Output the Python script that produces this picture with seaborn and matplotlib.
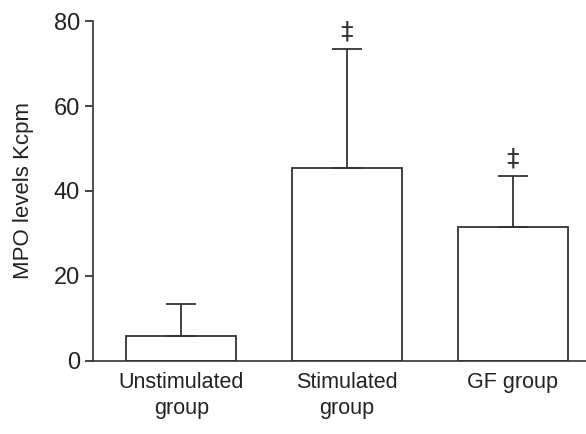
import pandas as pd
import numpy as np
import matplotlib
matplotlib.use('Agg')
import matplotlib.pyplot as plt
import seaborn as sns

# data
groups = ['Unstimulated\ngroup', 'Stimulated\ngroup', 'GF group']
means = [5.9, 45.3, 31.5]
upper_err = [7.5, 28.2, 12.1]
marks = ['', '‡', '‡']

sns.set_style('white')
plt.rcParams['font.family'] = ['Liberation Sans Narrow', 'Liberation Sans', 'DejaVu Sans']

df = pd.DataFrame({'group': groups, 'mpo': means})

fig = plt.figure(figsize=(5.86, 4.34), dpi=100)
ax = fig.add_axes([0.159, 0.169, 0.841, 0.782])

line_col = '#333333'
sns.barplot(x='group', y='mpo', data=df, ax=ax, color='white',
            edgecolor=line_col, linewidth=1.3, width=0.664, errorbar=None)

x = np.arange(len(groups))
ax.errorbar(x, means, yerr=[np.zeros(len(means)), upper_err], fmt='none',
            ecolor=line_col, elinewidth=1.3, capsize=11, capthick=1.3)

for xi, m, e, s in zip(x, means, upper_err, marks):
    if s:
        ax.text(xi, m + e + 1.3, s, ha='center', va='bottom', fontsize=18,
                color=line_col, family=['DejaVu Sans'])

ax.set_ylim(0, 80)
ax.set_xlim(-0.532, 2.443)
ax.set_yticks([0, 20, 40, 60, 80])
ax.set_xlabel('')
ax.set_ylabel('MPO levels Kcpm', fontsize=16, color='#222222', labelpad=14)
ax.tick_params(axis='y', labelsize=17, colors='#222222', length=6, width=1.2,
               left=True, direction='out')
ax.tick_params(axis='x', labelsize=15.5, colors='#222222', length=0, pad=8)
for lbl in ax.get_xticklabels():
    lbl.set_linespacing(1.3)

sns.despine(ax=ax, top=True, right=True)
for sp in ['left', 'bottom']:
    ax.spines[sp].set_color(line_col)
    ax.spines[sp].set_linewidth(1.2)

fig.savefig('out.png', dpi=100)
